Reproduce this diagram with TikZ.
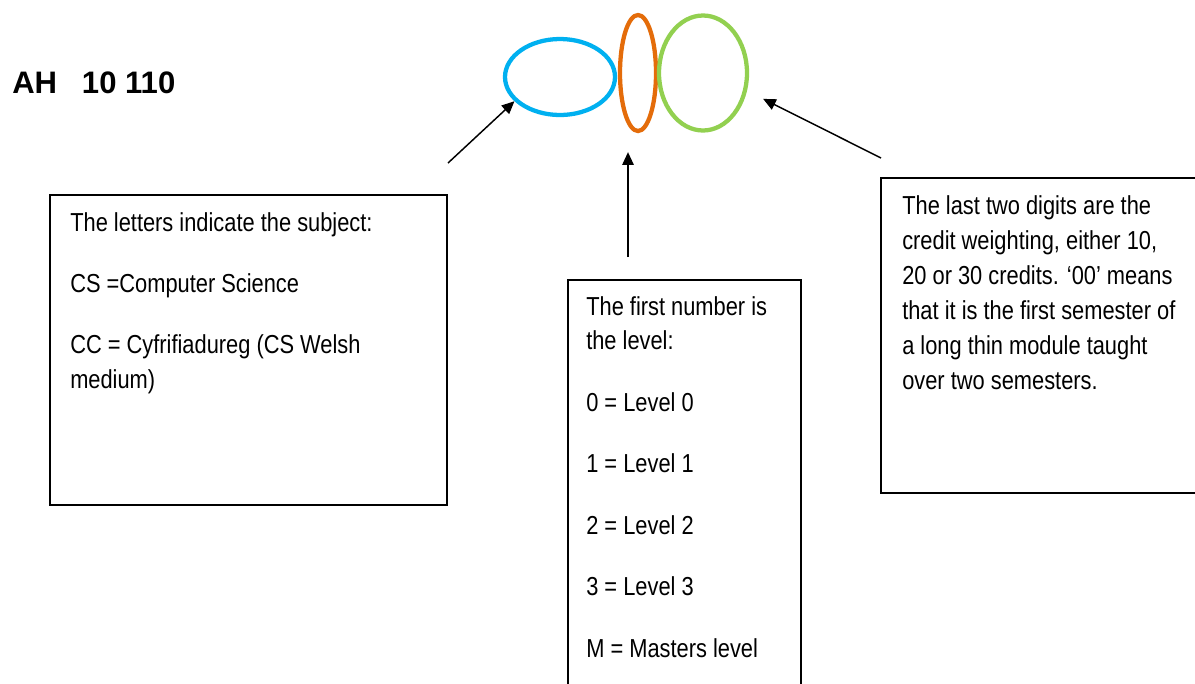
\documentclass[tikz,border=0pt]{standalone}
\usepackage{fontspec}
\setmainfont{Liberation Sans}[FakeStretch=0.84]
\newfontfamily\headfont{Liberation Sans}
\usetikzlibrary{arrows.meta,shapes.geometric}
\definecolor{subjblue}{RGB}{0,176,240}
\definecolor{levelorange}{RGB}{228,108,10}
\definecolor{creditgreen}{RGB}{146,208,80}

\begin{document}
\begin{tikzpicture}[x=0.75pt,y=0.75pt,yscale=-1,
  ring/.style={draw,ellipse,line width=3.2pt,inner sep=0pt},
  infotext/.style={anchor=base west,inner sep=0pt,align=left,font=\fontsize{19.5}{25.9}\selectfont},
  pointer/.style={line width=1.1pt,-{Triangle[length=9.5pt,width=8.5pt]}}]
\clip (0,0) rectangle (1195,683);
\fill[white] (0,0) rectangle (1195,683);

% module code
\node[anchor=base west,inner sep=0pt,font=\headfont\bfseries\fontsize{23.3}{28}\selectfont] (code) at (12,93) {AH\hspace{0.8em}10 110};

% the three parts
\node[ring,draw=subjblue,minimum width=82.5pt,minimum height=57pt] (subj) at (560,77) {};
\node[ring,draw=levelorange,minimum width=27pt,minimum height=87pt] (levl) at (638,73) {};
\node[ring,draw=creditgreen,minimum width=66pt,minimum height=86.25pt] (cred) at (703,73) {};

% boxes
\draw[line width=0.9pt] (50,195) rectangle (447,505);
\draw[line width=0.9pt] (568,690) -- (568,280) -- (801,280) -- (801,690);
\draw[line width=0.9pt] (1200,178) -- (881,178) -- (881,493) -- (1200,493);

% base of a text node sits on its last line
\node[infotext] (subjtext) at (70,388) {The letters indicate the subject:\\[20pt]
  CS =Computer Science\\[20pt]
  CC = Cyfrifiadureg (CS Welsh\\
  medium)};
\node[infotext] (levltext) at (586,657) {The first number is\\
  the level:\\[20.2pt]
  0 = Level 0\\[20.2pt]
  1 = Level 1\\[20.2pt]
  2 = Level 2\\[20.2pt]
  3 = Level 3\\[20.2pt]
  M = Masters level};
\node[infotext,font=\fontsize{19.5}{26.25}\selectfont] (credtext) at (902,389.5) {The last two digits are the\\
  credit weighting, either 10,\\
  20 or 30 credits. `00' means\\
  that it is the first semester of\\
  a long thin module taught\\
  over two semesters.};

% pointers
\coordinate (subjtail) at (448,163);
\coordinate (levltail) at (628,257);
\coordinate (credtail) at (881,158);
\draw[pointer] (subjtail) -- (subj.208);
\draw[pointer,shorten >=14.25pt] (levltail) -- (levltail |- levl.south);
\draw[pointer,shorten >=13.5pt] (credtail) -- (cred.-22);
\end{tikzpicture}
\end{document}
